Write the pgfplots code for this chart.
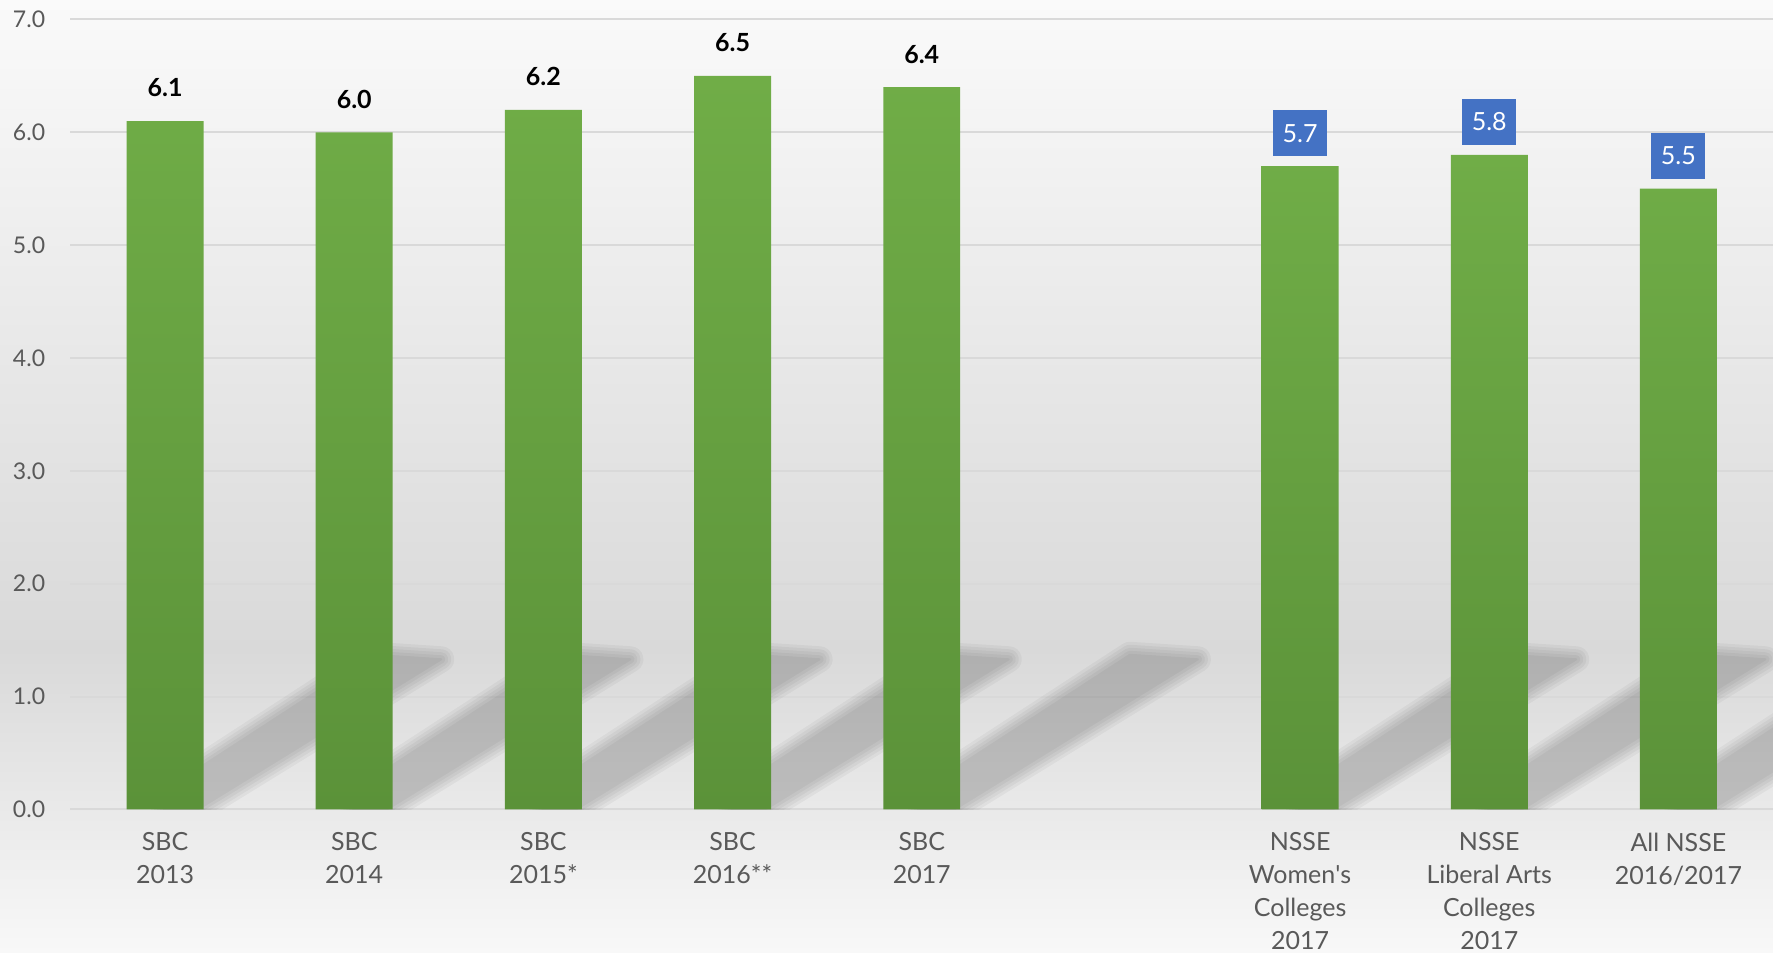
\documentclass[border=0pt]{standalone}
\usepackage{pgfplots}
\pgfplotsset{compat=1.18}
\usepackage{fontspec}
\setmainfont{Lato}
\pgfkeys{/pgf/number format/assume math mode=true}

\definecolor{bartop}{HTML}{70AD47}
\definecolor{barbot}{HTML}{5B9239}
\definecolor{boxblue}{HTML}{4472C4}
\definecolor{tickgray}{HTML}{595959}
\definecolor{gridgray}{HTML}{D9D9D9}
\definecolor{bgtop}{HTML}{FAFAFA}
\definecolor{bgmid}{HTML}{D9D9D9}
\definecolor{bgbot}{HTML}{F8F8F8}

% one soft layer of the sheared shadow (c = bar position, w = blur width)
\newcommand{\shadowlayer}[2]{%
  \begin{scope}[transparency group, opacity=0.04]
    \filldraw[black, line width=#2, line join=round]
      (axis cs:{#1-0.01},-0.19) -- (axis cs:{#1+1.46},1.33) -- (axis cs:{#1+1.10},1.37) -- (axis cs:{#1},0.17) -- cycle;
  \end{scope}}
\newcommand{\barshadow}[1]{%
  \shadowlayer{#1}{13pt}\shadowlayer{#1}{10pt}\shadowlayer{#1}{7pt}%
  \shadowlayer{#1}{4pt}\shadowlayer{#1}{1pt}}

\begin{document}
\begin{tikzpicture}
% background
\shade[top color=bgtop, bottom color=bgmid] (-35.25pt,80pt) rectangle (851.4pt,404.75pt);
\shade[top color=bgmid, bottom color=bgbot] (-35.25pt,-71.5pt) rectangle (851.4pt,80.2pt);

\begin{axis}[
    at={(0,0)}, anchor=south west,
    scale only axis,
    width=851.4pt, height=395pt,
    xmin=-0.5, xmax=8.5,
    ymin=0, ymax=7,
    ytick={0,1,2,3,4,5,6,7},
    xtick={0,1,2,3,4,6,7,8},
    xticklabels={
        {SBC\\2013},
        {SBC\\2014},
        {SBC\\2015*},
        {SBC\\2016**},
        {SBC\\2017},
        {NSSE\\Women\textquotesingle s\\Colleges\\2017},
        {NSSE\\Liberal Arts\\Colleges\\2017},
        {All NSSE\\2016/2017}
    },
    xticklabel style={align=center, anchor=north, inner sep=0pt, yshift=-11.5pt,
        font=\fontsize{12.5}{16.5}\selectfont, text=tickgray},
    yticklabel style={anchor=east, inner sep=0pt, xshift=-12.5pt,
        font=\fontsize{11.5}{13}\selectfont, text=tickgray,
        /pgf/number format/fixed, /pgf/number format/fixed zerofill,
        /pgf/number format/precision=1},
    axis line style={draw=none},
    major tick length=0pt,
    ymajorgrids=true,
    grid style={color=gridgray, line width=1pt},
]

\pgfplotsinvokeforeach{0,1,2,3,4,6,7,8}{\barshadow{#1}}

% SBC years
\addplot[ybar, bar width=38.5pt, bar shift=0pt, draw=none,
    top color=bartop, bottom color=barbot,
    nodes near coords={\pgfmathprintnumber[fixed,fixed zerofill,precision=1]{\pgfplotspointmeta}},
    every node near coord/.append style={anchor=center, yshift=16.5pt,
        font=\fontsize{12.5}{15}\selectfont\bfseries, text=black}]
coordinates {
    (0,6.1) (1,6.0) (2,6.2) (3,6.5) (4,6.4)
};

% NSSE comparison groups
\addplot[ybar, bar width=38.5pt, bar shift=0pt, draw=none,
    top color=bartop, bottom color=barbot,
    nodes near coords={\pgfmathprintnumber[fixed,fixed zerofill,precision=1]{\pgfplotspointmeta}},
    every node near coord/.append style={anchor=center, yshift=16.5pt,
        fill=boxblue, text=white, minimum width=27pt, minimum height=23pt, inner sep=0pt,
        font=\fontsize{12.5}{15}\selectfont}]
coordinates {
    (6,5.7) (7,5.8) (8,5.5)
};

\end{axis}
\pgfresetboundingbox
\path (-35.25pt,-71.5pt) rectangle (851.4pt,404.75pt);
\end{tikzpicture}
\end{document}
